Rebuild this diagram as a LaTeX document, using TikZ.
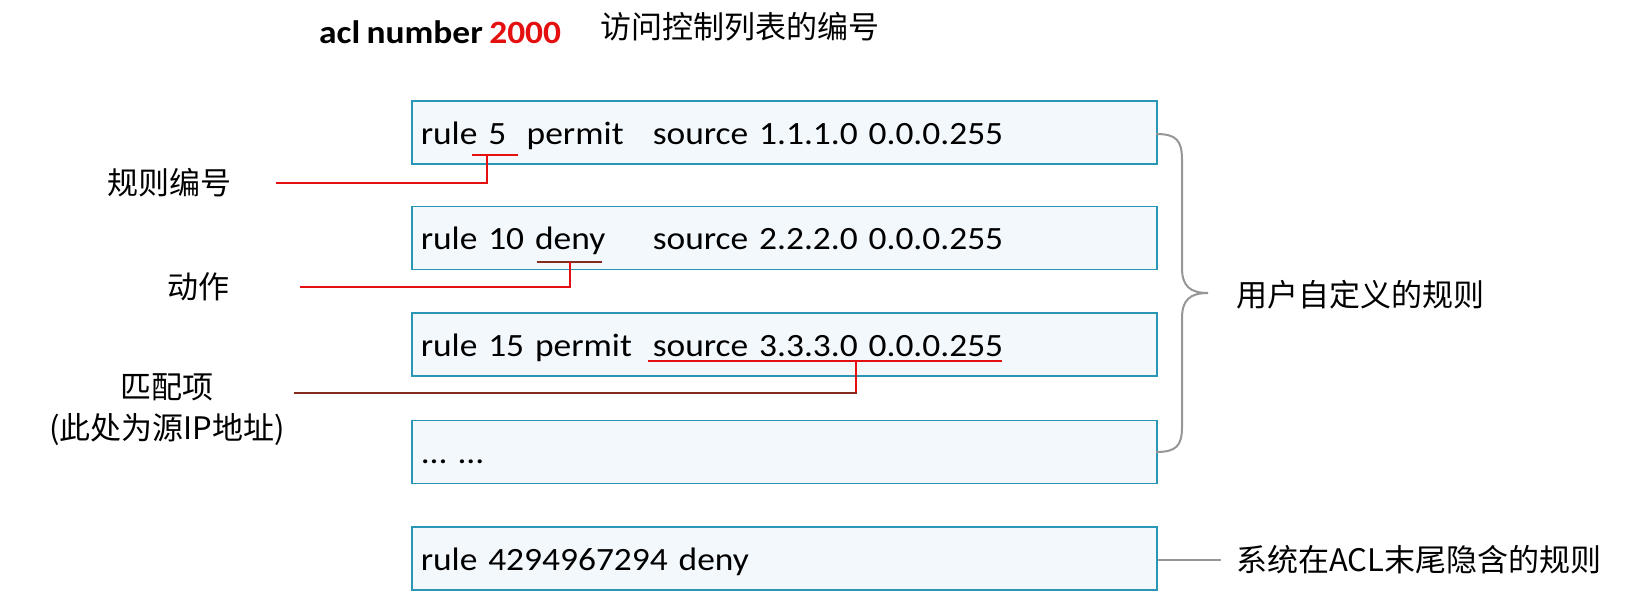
\documentclass[tikz,border=0pt]{standalone}
\usepackage{fontspec}
\setmainfont{Carlito}
\newfontfamily\rulefont[FakeStretch=1.09,WordSpace=0.8]{Carlito}
\newfontfamily\cjk{Noto Sans CJK SC}
\usetikzlibrary{positioning,calc}

\definecolor{boxline}{RGB}{40,150,180}
\definecolor{boxfill}{RGB}{243,248,252}
\definecolor{markred}{RGB}{228,16,16}
\definecolor{markbrown}{RGB}{135,42,30}
\definecolor{bracegray}{RGB}{150,150,150}

\begin{document}
\begin{tikzpicture}[x=1pt,y=-1pt,line cap=butt,
    rulebox/.style={draw=boxline,line width=1.5pt,fill=boxfill,
      text width=727pt,inner xsep=9pt,inner ysep=0pt,minimum height=63pt,
      align=left,text height=24pt,text depth=0pt,
      font=\rulefont\fontsize{32.5}{40}\selectfont},
    note/.style={inner sep=0pt,font=\cjk\fontsize{31}{41}\selectfont},
    leader/.style={draw=markred,line width=2.8pt},
    underline/.style={draw=markred,line width=2.5pt},
    brace/.style={draw=bracegray,line width=2pt}]
  \useasboundingbox (0,0) rectangle (1633,594);

  %% Title line.
  \node[anchor=base west,inner sep=0pt,font=\rulefont\bfseries\fontsize{32.5}{40}\selectfont]
    (title) at (319,44) {acl number \textcolor{markred}{2000}};
  \node[note,anchor=west] (titlenote) at (600,27) {访问控制列表的编号};

  %% Rule boxes, one under the other.
  \node[rulebox,anchor=north west] (r5) at (411,100)
    {\makebox[232pt][l]{\makebox[106pt][l]{rule 5}permit}source 1.1.1.0 0.0.0.255};
  \node[rulebox,below=41pt of r5] (r10)
    {\makebox[232pt][l]{rule 10 deny}source 2.2.2.0 0.0.0.255};
  \node[rulebox,below=42pt of r10] (r15)
    {\makebox[232pt][l]{rule 15 permit}source 3.3.3.0 0.0.0.255};
  \node[rulebox,below=43pt of r15] (rdots) {...\hspace{10pt}...};
  \node[rulebox,below=42pt of rdots] (rlast) {rule 4294967294 deny};

  %% Labels on the left.
  \node[note,anchor=east] (lblrule) at (232,183) {规则编号};
  \node[note,anchor=east] (lblact) at (230,287) {动作};
  \node[note,align=center] (lblmatch) at (167,410) {匹配项\\(此处为源IP地址)};

  %% Field markers and leaders.
  \coordinate (m5) at (487,155);
  \coordinate (m10) at (570,262);
  \coordinate (m15) at (856,361);
  \draw[underline] (472,155) -- (518,155);
  \draw[underline,draw=markbrown] (537,262) -- (602,262);
  \draw[underline] (648,361) -- (1002,361);
  \draw[leader] ([xshift=44pt]lblrule.east) -| (m5);
  \draw[leader] ([xshift=70pt]lblact.east) -| (m10);
  \draw[leader,draw=markbrown] ([xshift=9pt,yshift=17pt]lblmatch.east) -| (m15);
  \draw[leader] (m15) -- ++(0,31);

  %% Brace over the user rules.
  \draw[brace] (1156,134) .. controls (1176,134) and (1182,140) .. (1182,160)
    -- (1182,268) .. controls (1182,286) and (1190,293) .. (1208,293)
    .. controls (1190,293) and (1182,300) .. (1182,318)
    -- (1182,427) .. controls (1182,446) and (1176,452) .. (1156,452);
  \node[note,anchor=west] (userrules) at (1236,295) {用户自定义的规则};

  %% Implicit rule at the end.
  \node[note,anchor=west] (implicit) at (1236,560) {系统在ACL末尾隐含的规则};
  \draw[brace] (rlast.east |- implicit.west) -- ([xshift=-15pt]implicit.west);
\end{tikzpicture}
\end{document}
